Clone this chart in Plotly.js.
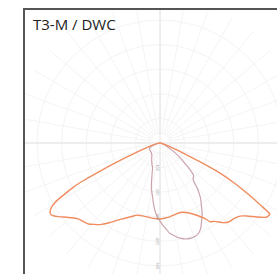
<!DOCTYPE html>
<html>
<head>
<meta charset="utf-8">
<script src="https://cdn.plot.ly/plotly-3.0.1.min.js"></script>
<style>
  html, body { margin: 0; padding: 0; background: #fff; width: 277px; height: 274px; overflow: hidden; }
  #frame { position: absolute; left: 23px; top: 8px; width: 260px; height: 272px; overflow: hidden;
           border-left: 2px solid #555; border-top: 2px solid #555; background: #fff; }
  #chart { position: absolute; left: -10px; top: -12px; width: 290px; height: 290px; }
</style>
</head>
<body>
<div id="frame"><div id="chart"></div></div>
<script>
// Photometric polar diagram, gamma angle in degrees (0 = nadir, + = right), intensity in cd/klm
const chartTitle = "T3-M / DWC";
const radialTicks = [100, 200, 300, 400, 500];
const radialTickLabels = ["100", "200", "300", "400", "500"];

// C0 - C180 plane (orange)
const planeAGamma = [-90, -82, -76, -72, -69, -67, -65.6, -64.5, -63.8, -63, -62.1, -61.2, -60.5, -59.2, -57.8, -56.6, -55.7, -54, -51.5, -49, -47.1, -44.5, -41.5, -38.8, -36.3, -32.5, -29.1, -25, -20.5, -17.7, -15, -12, -8, -4, 0, 4, 7.7, 13, 17.1, 20.5, 23.1, 27.6, 30.5, 32.4, 34.9, 38.5, 41, 42.5, 44.9, 47.6, 50, 52.5, 55.1, 56.3, 57.1, 58.2, 59.9, 61.5, 63.2, 64.5, 65.6, 67, 69, 73, 80, 90];
const planeAValue = [0, 5, 20, 50, 87, 150, 223, 290, 348, 395, 429, 465, 491, 515, 529, 530, 525, 510, 485, 465, 454, 447, 440, 425, 412, 385, 360, 338, 318, 308, 306, 305, 306, 308, 309, 306, 303, 296, 295, 302, 311, 334, 355, 379, 389, 414, 426, 428, 431, 441, 462, 495, 528, 532, 532, 485, 414, 350, 279, 200, 125, 85, 55, 25, 5, 0];

// C90 - C270 plane (mauve)
const planeBGamma = [-90, -80, -70, -63.6, -55, -45, -35, -31, -25, -20, -17, -14, -11, -8, -6, -4, -2, 0, 2, 4, 6, 9, 12, 15.3, 18, 21, 23, 25.5, 28, 31, 34, 36.2, 39, 42.4, 46, 50, 55, 60, 65, 70, 80, 90];
const planeBValue = [0, 10, 30, 48, 50, 52, 58, 65, 80, 95, 103, 135, 185, 220, 250, 280, 300, 318, 335, 350, 368, 383, 396, 405, 407, 405, 400, 385, 360, 333, 300, 280, 245, 200, 190, 140, 90, 50, 28, 15, 5, 0];

const rMax = 590;
const hubR = 40;

const hub = [];
const hubTheta = [];
for (let a = 0; a <= 360; a += 10) { hub.push(hubR); hubTheta.push(a); }

const traces = [
  { type: 'scatterpolar', r: hub, theta: hubTheta, mode: 'lines', fill: 'toself',
    fillcolor: '#ffffff', line: { color: '#f3f3f3', width: 1 }, hoverinfo: 'skip' },
  { type: 'scatterpolar', r: [rMax, 0, rMax], theta: [0, 0, 180], mode: 'lines',
    line: { color: '#e2e2e2', width: 1 }, hoverinfo: 'skip' },
  { type: 'scatterpolar', r: [rMax, 0, rMax], theta: [90, 90, -90], mode: 'lines',
    line: { color: '#e2e2e2', width: 1 }, hoverinfo: 'skip' },
  { type: 'scatterpolar', r: planeBValue, theta: planeBGamma, mode: 'lines', name: 'C90-C270',
    line: { color: '#cba3ab', width: 1.2, shape: 'spline', smoothing: 0.6 } },
  { type: 'scatterpolar', r: planeAValue, theta: planeAGamma, mode: 'lines', name: 'C0-C180',
    line: { color: '#f08c60', width: 1.4, shape: 'spline', smoothing: 0.5 } }
];

const layout = {
  width: 290, height: 290,
  margin: { l: 0, r: 0, t: 0, b: 0, pad: 0 },
  paper_bgcolor: '#ffffff',
  showlegend: false,
  title: {
    text: chartTitle, xref: 'container', yref: 'container',
    x: 18 / 290, xanchor: 'left', y: 1 - 26.5 / 290, yanchor: 'middle',
    font: { family: 'Open Sans, Noto Sans, sans-serif', size: 15, color: '#222' }
  },
  polar: {
    domain: { x: [0, 1], y: [0, 1] },
    bgcolor: '#ffffff',
    angularaxis: {
      rotation: -90, direction: 'counterclockwise',
      tickmode: 'linear', tick0: 0, dtick: 10,
      showticklabels: false, ticks: '', showline: false,
      gridcolor: '#f4f4f4', gridwidth: 1
    },
    radialaxis: {
      range: [0, rMax], angle: -90,
      tickmode: 'array', tickvals: radialTicks, ticktext: radialTickLabels,
      showline: false, ticks: '',
      tickfont: { family: 'Open Sans, sans-serif', size: 4, color: '#999' },
      gridcolor: '#f4f4f4', gridwidth: 1
    }
  }
};

Plotly.newPlot('chart', traces, layout, { staticPlot: true, displayModeBar: false });
</script>
</body>
</html>
